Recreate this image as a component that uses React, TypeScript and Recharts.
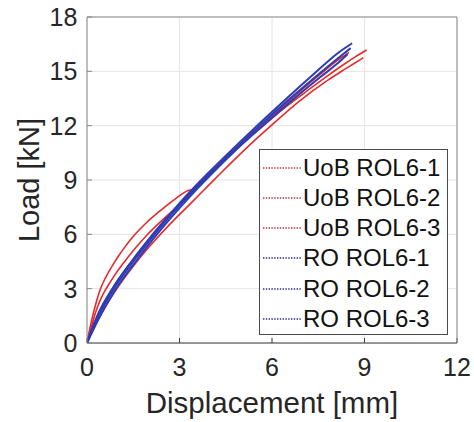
import React from 'react';
import { LineChart, Line, XAxis, YAxis, CartesianGrid, Legend } from 'recharts';

const FONT = '"Liberation Sans", Arial, Helvetica, sans-serif';

const xTicks = [0, 3, 6, 9, 12];
const yTicks = [0, 3, 6, 9, 12, 15, 18];

const uob1 = [
  { x: 0, y: 0 }, { x: 0.05, y: 0.45 }, { x: 0.15, y: 1.25 }, { x: 0.3, y: 2.25 }, { x: 0.45, y: 3.05 },
  { x: 0.6, y: 3.6 }, { x: 0.8, y: 4.2 }, { x: 1.0, y: 4.75 }, { x: 1.25, y: 5.35 }, { x: 1.56, y: 6.0 },
  { x: 1.9, y: 6.6 }, { x: 2.37, y: 7.3 }, { x: 2.8, y: 7.88 }, { x: 3.1, y: 8.25 }, { x: 3.28, y: 8.42 },
  { x: 3.42, y: 8.46 }, { x: 3.55, y: 8.55 }, { x: 4.0, y: 9.35 }, { x: 5.0, y: 10.95 }, { x: 5.62, y: 11.85 },
  { x: 6.5, y: 13.1 }, { x: 7.2, y: 14.0 }, { x: 7.8, y: 14.75 }, { x: 8.3, y: 15.35 }, { x: 8.7, y: 15.8 },
  { x: 9.07, y: 16.18 },
];
const uob2 = [
  { x: 0, y: 0 }, { x: 0.06, y: 0.4 }, { x: 0.15, y: 0.95 }, { x: 0.3, y: 1.8 }, { x: 0.45, y: 2.45 },
  { x: 0.64, y: 3.05 }, { x: 0.9, y: 3.75 }, { x: 1.2, y: 4.45 }, { x: 1.55, y: 5.2 }, { x: 1.94, y: 5.95 },
  { x: 2.2, y: 6.4 }, { x: 2.47, y: 6.83 }, { x: 2.8, y: 7.33 }, { x: 3.2, y: 7.97 }, { x: 3.6, y: 8.67 },
  { x: 4.0, y: 9.35 }, { x: 5.0, y: 11.0 }, { x: 5.62, y: 11.98 }, { x: 6.5, y: 13.3 }, { x: 7.5, y: 14.75 },
  { x: 8.2, y: 15.7 }, { x: 8.5, y: 16.05 },
];
const uob3 = [
  { x: 0, y: 0 }, { x: 0.2, y: 0.75 }, { x: 0.48, y: 1.65 }, { x: 0.97, y: 3.0 }, { x: 1.62, y: 4.5 },
  { x: 2.17, y: 5.6 }, { x: 2.73, y: 6.63 }, { x: 3.3, y: 7.6 }, { x: 3.84, y: 8.53 }, { x: 4.35, y: 9.4 },
  { x: 5.35, y: 11.05 }, { x: 5.99, y: 12.03 }, { x: 6.9, y: 13.37 }, { x: 7.8, y: 14.5 }, { x: 8.3, y: 15.05 },
  { x: 8.65, y: 15.42 }, { x: 8.96, y: 15.75 },
];
const ro1 = [
  { x: 0, y: 0 }, { x: 0.13, y: 0.65 }, { x: 0.36, y: 1.6 }, { x: 0.82, y: 3.0 }, { x: 1.44, y: 4.5 },
  { x: 1.94, y: 5.6 }, { x: 2.44, y: 6.63 }, { x: 2.94, y: 7.6 }, { x: 3.44, y: 8.53 }, { x: 3.94, y: 9.4 },
  { x: 4.93, y: 11.05 }, { x: 5.55, y: 12.05 }, { x: 6.42, y: 13.42 }, { x: 7.4, y: 14.92 }, { x: 8.1, y: 15.96 },
  { x: 8.6, y: 16.55 },
];
const ro2 = [
  { x: 0, y: 0 }, { x: 0.15, y: 0.65 }, { x: 0.4, y: 1.6 }, { x: 0.87, y: 3.0 }, { x: 1.5, y: 4.5 },
  { x: 2.0, y: 5.6 }, { x: 2.5, y: 6.63 }, { x: 3.0, y: 7.6 }, { x: 3.5, y: 8.53 }, { x: 4.0, y: 9.4 },
  { x: 5.0, y: 11.05 }, { x: 5.62, y: 12.03 }, { x: 6.5, y: 13.37 }, { x: 7.5, y: 14.83 }, { x: 8.2, y: 15.81 },
  { x: 8.55, y: 16.28 },
];
const ro3 = [
  { x: 0, y: 0 }, { x: 0.18, y: 0.65 }, { x: 0.46, y: 1.6 }, { x: 0.94, y: 3.0 }, { x: 1.58, y: 4.5 },
  { x: 2.08, y: 5.6 }, { x: 2.58, y: 6.63 }, { x: 3.08, y: 7.6 }, { x: 3.58, y: 8.53 }, { x: 4.08, y: 9.4 },
  { x: 5.08, y: 11.05 }, { x: 5.7, y: 12.0 }, { x: 6.58, y: 13.3 }, { x: 7.58, y: 14.7 }, { x: 8.1, y: 15.4 },
  { x: 8.45, y: 15.95 },
];

const RED = '#e52a2a';
const BLUE = '#2e3cb4';

const series = [
  { name: 'UoB ROL6-1', data: uob1, color: RED, legend: '#b8303a', width: 1.6 },
  { name: 'UoB ROL6-2', data: uob2, color: RED, legend: '#b8303a', width: 1.6 },
  { name: 'UoB ROL6-3', data: uob3, color: RED, legend: '#b8303a', width: 1.6 },
  { name: 'RO ROL6-1', data: ro1, color: BLUE, legend: '#2a2a90', width: 2 },
  { name: 'RO ROL6-2', data: ro2, color: BLUE, legend: '#2a2a90', width: 2 },
  { name: 'RO ROL6-3', data: ro3, color: BLUE, legend: '#2a2a90', width: 2 },
];

const LegendBox = () => (
  <div
    style={{
      position: 'relative',
      width: 189,
      height: 186,
      border: '1px solid #4a4a4a',
      background: '#fff',
      boxSizing: 'border-box',
    }}
  >
    {series.map((s, i) => (
      <div
        key={s.name}
        style={{
          position: 'absolute',
          left: 0,
          top: 2.5 + i * 30.3,
          height: 30,
          display: 'flex',
          alignItems: 'center',
          whiteSpace: 'nowrap',
        }}
      >
        <svg width={43} height={30} style={{ display: 'block' }}>
          <line x1={3} x2={41} y1={15} y2={15} stroke={s.legend} strokeWidth={1.5} strokeDasharray="1.4 1.4" />
        </svg>
        <span style={{ fontSize: 24, fontFamily: FONT, color: '#111', lineHeight: '30px' }}>{s.name}</span>
      </div>
    ))}
  </div>
);

const XLabel = (props: any) => {
  const vb = props.viewBox || {};
  return (
    <text
      x={vb.x + vb.width / 2}
      y={412.5}
      textAnchor="middle"
      fontSize={29.5}
      fontFamily={FONT}
      fill="#262626"
    >
      Displacement [mm]
    </text>
  );
};

const YLabel = (props: any) => {
  const vb = props.viewBox || {};
  const cy = vb.y + vb.height / 2;
  const cx = 39;
  return (
    <text
      x={cx}
      y={cy}
      transform={`rotate(-90, ${cx}, ${cy})`}
      textAnchor="middle"
      fontSize={29}
      fontFamily={FONT}
      fill="#262626"
    >
      Load [kN]
    </text>
  );
};

const tickStyle = { fontSize: 25, fill: '#262626', fontFamily: FONT };

export default function App() {
  return (
    <div style={{ position: 'absolute', left: 0, top: 0, width: 474, height: 422, background: '#fff' }}>
      <LineChart width={474} height={422} margin={{ top: 16, right: 16, bottom: 0, left: 0 }}>
        <CartesianGrid stroke="#e4e4e4" strokeWidth={1} />
        <XAxis
          type="number"
          dataKey="x"
          domain={[0, 12]}
          ticks={xTicks}
          allowDataOverflow
          height={79}
          tickSize={-5}
          tickMargin={20}
          stroke="#3c3c3c"
          tick={tickStyle}
          label={{ content: XLabel }}
        />
        <XAxis
          xAxisId="top"
          orientation="top"
          type="number"
          domain={[0, 12]}
          ticks={xTicks}
          allowDataOverflow
          height={1}
          tickSize={-5}
          stroke="#8a8a8a"
          tick={false}
        />
        <YAxis
          type="number"
          domain={[0, 18]}
          ticks={yTicks}
          allowDataOverflow
          width={87}
          tickSize={-5}
          tickMargin={14.7}
          stroke="#8a8a8a"
          tick={tickStyle}
          label={{ content: YLabel }}
        />
        <YAxis
          yAxisId="right"
          orientation="right"
          type="number"
          domain={[0, 18]}
          ticks={yTicks}
          allowDataOverflow
          width={1}
          tickSize={-5}
          stroke="#8a8a8a"
          tick={false}
        />
        {series.map((s) => (
          <Line
            key={s.name}
            name={s.name}
            data={s.data}
            dataKey="y"
            type="monotone"
            stroke={s.color}
            strokeWidth={s.width}
            dot={false}
            activeDot={false}
            isAnimationActive={false}
          />
        ))}
        <Legend
          layout="vertical"
          align="center"
          verticalAlign="middle"
          content={LegendBox}
          wrapperStyle={{ left: 259, top: 149, width: 189, height: 186 }}
        />
      </LineChart>
    </div>
  );
}
